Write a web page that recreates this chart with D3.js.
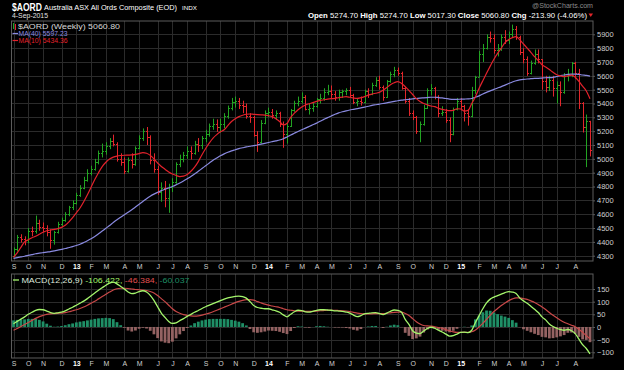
<!DOCTYPE html>
<html><head><meta charset="utf-8">
<script src="https://cdnjs.cloudflare.com/ajax/libs/d3/7.8.5/d3.min.js"></script>
<style>body{margin:0;background:#000}svg{display:block;font-family:"Liberation Sans",Arial,sans-serif}</style>
</head><body><svg id="c" width="624" height="370"></svg>
<script>
// ---- DATA (weekly $AORD, first bar Fri 7-Sep-2012, last bar Fri 4-Sep-2015) ----
const opens = [4300,4345,4435,4420,4410,4480,4475,4535,4510,4500,
4470,4410,4470,4530,4560,4600,4650,4680,4740,4790,
4850,4900,4930,4975,5040,5060,5090,5130,5110,5000,
4980,4910,4990,4960,5080,5150,5200,5160,4990,4930,
4760,4790,4720,4800,4830,4960,5000,5030,5060,5040,
5110,5100,5150,5180,5240,5250,5230,5250,5310,5370,
5410,5420,5390,5380,5310,5300,5170,5120,5260,5330,
5340,5320,5330,5250,5180,5240,5350,5400,5420,5450,
5360,5370,5380,5430,5440,5480,5490,5470,5450,5480,
5490,5500,5460,5410,5420,5410,5490,5470,5530,5570,
5520,5450,5560,5610,5640,5620,5510,5420,5330,5300,
5200,5250,5370,5500,5510,5450,5330,5340,5280,5180,
5360,5420,5380,5330,5310,5500,5590,5760,5800,5880,
5870,5790,5800,5880,5860,5900,5940,5880,5770,5720,
5620,5690,5760,5720,5560,5520,5570,5510,5530,5480,
5600,5610,5690,5620,5400,5230,5274.7];
const highs = [4360,4450,4455,4440,4500,4510,4590,4560,4540,4520,
4490,4480,4545,4575,4615,4660,4700,4755,4810,4870,
4925,4950,5000,5060,5110,5120,5150,5175,5120,5040,
5010,5010,5040,5090,5170,5220,5230,5170,5040,4950,
4830,4840,4820,4860,4975,5030,5050,5090,5090,5130,
5150,5165,5210,5255,5290,5285,5290,5330,5385,5440,
5450,5440,5420,5400,5330,5310,5200,5280,5350,5370,
5360,5350,5340,5270,5260,5360,5420,5450,5480,5460,
5400,5410,5440,5470,5510,5535,5530,5490,5500,5500,
5510,5520,5470,5440,5450,5500,5510,5550,5590,5600,
5530,5570,5630,5665,5660,5630,5520,5440,5350,5310,
5270,5390,5510,5540,5520,5460,5380,5360,5300,5370,
5440,5440,5390,5360,5520,5600,5780,5830,5900,5920,
5900,5830,5900,5930,5920,5970,5960,5890,5800,5740,
5710,5790,5790,5720,5600,5600,5600,5560,5560,5620,
5650,5700,5700,5650,5410,5320,5274.7];
const lows = [4290,4330,4395,4375,4390,4440,4460,4480,4470,4440,
4350,4380,4460,4515,4545,4585,4630,4670,4725,4780,
4835,4880,4915,4960,5010,5030,5070,5090,4980,4950,
4890,4900,4930,4950,5070,5130,5100,4960,4900,4740,
4690,4650,4610,4760,4820,4940,4975,5000,4995,5030,
5050,5070,5120,5160,5210,5195,5190,5220,5290,5350,
5370,5360,5330,5290,5260,5160,5050,5110,5250,5300,
5290,5280,5230,5080,5110,5230,5340,5380,5400,5350,
5320,5340,5370,5400,5420,5460,5440,5420,5420,5440,
5460,5440,5395,5380,5385,5400,5440,5460,5520,5500,
5420,5440,5550,5590,5600,5500,5400,5310,5280,5180,
5120,5240,5360,5460,5430,5300,5310,5260,5120,5170,
5350,5350,5270,5240,5300,5470,5590,5700,5790,5840,
5760,5740,5780,5830,5830,5880,5860,5750,5690,5600,
5610,5680,5690,5500,5480,5490,5450,5400,5380,5470,
5560,5590,5580,5360,5190,4940,5017.3];
const closes = [4345,4435,4420,4410,4480,4475,4535,4510,4500,4470,
4410,4470,4530,4560,4600,4650,4680,4740,4790,4850,
4900,4930,4975,5040,5060,5090,5130,5110,5000,4980,
4910,4990,4960,5080,5150,5200,5160,4990,4930,4760,
4790,4720,4800,4830,4960,5000,5030,5060,5040,5110,
5100,5150,5180,5240,5250,5230,5250,5310,5370,5410,
5420,5390,5380,5310,5300,5170,5120,5260,5330,5340,
5320,5330,5250,5180,5240,5350,5400,5420,5450,5360,
5370,5380,5430,5440,5480,5490,5470,5450,5480,5490,
5500,5460,5410,5420,5410,5490,5470,5530,5570,5520,
5450,5560,5610,5640,5620,5510,5420,5330,5300,5200,
5250,5370,5500,5510,5450,5330,5340,5280,5180,5360,
5420,5380,5330,5310,5500,5590,5760,5800,5880,5870,
5790,5800,5880,5860,5900,5940,5880,5770,5720,5620,
5690,5760,5720,5560,5520,5570,5510,5530,5480,5600,
5610,5690,5620,5400,5230,5274.7,5060.8];
const ma10 = [4289,4320,4360,4400,4415,4430,4440,4455,4470,4480,
4486,4490,4496,4505,4520,4545,4575,4610,4645,4690,
4740,4795,4850,4900,4944,4975,4998,5012,5020,5024,
5026,5027,5028,5032,5038,5045,5040,5025,5000,4970,
4945,4925,4905,4890,4880,4872,4875,4887,4910,4940,
4980,5030,5075,5115,5150,5175,5195,5210,5240,5270,
5290,5305,5315,5322,5324,5322,5320,5318,5316,5312,
5305,5290,5270,5245,5255,5300,5330,5355,5375,5389,
5398,5406,5415,5422,5427,5432,5435,5437,5442,5446,
5449,5445,5440,5437,5442,5450,5460,5468,5474,5480,
5495,5515,5535,5550,5558,5545,5522,5495,5465,5435,
5415,5400,5390,5382,5377,5365,5357,5352,5348,5350,
5362,5360,5345,5350,5400,5449,5510,5565,5618,5670,
5720,5762,5800,5840,5862,5876,5883,5860,5830,5800,
5770,5738,5710,5680,5663,5645,5625,5608,5600,5594,
5600,5605,5590,5560,5525,5490,5434.36];
const ma40 = [4281,4286,4291,4296,4302,4308,4314,4318,4322,4326,
4330,4335,4340,4346,4352,4359,4366,4374,4383,4395,
4408,4422,4438,4458,4478,4498,4518,4540,4560,4578,
4596,4614,4632,4652,4672,4692,4712,4730,4745,4758,
4770,4780,4790,4800,4812,4825,4840,4856,4872,4890,
4910,4930,4950,4970,4990,5006,5022,5036,5048,5058,
5066,5074,5080,5086,5091,5096,5100,5106,5112,5118,
5124,5130,5136,5145,5158,5172,5185,5198,5210,5222,
5234,5246,5258,5272,5285,5298,5310,5322,5332,5340,
5347,5353,5358,5363,5368,5374,5380,5386,5391,5396,
5400,5405,5410,5415,5420,5424,5427,5430,5433,5436,
5439,5441,5443,5445,5445,5443,5440,5436,5432,5430,
5430,5431,5432,5433,5436,5445,5455,5468,5480,5491,
5502,5512,5522,5533,5544,5555,5564,5570,5574,5577,
5579,5581,5582,5584,5586,5587,5589,5595,5601,5606,
5610,5612,5612,5610,5606,5603,5597.23];
const macdLine = [13,22,31,40,50,58,66,69,68,63,
57,54,56,59,64,71,78,86,94,102,
112,123,134,145,155,165,173,177,170,160,
150,138,132,134,140,143,138,125,105,80,
55,38,22,14,16,25,33,42,50,58,
65,73,80,86,92,98,104,110,115,118,
121,122,120,114,100,85,77,74,72,72,
68,64,58,48,40,50,60,66,65,60,
59,62,66,68,68,67,66,64,63,62,
59,55,47,41,45,52,54,56,57,53,
49,55,62,67,66,58,30,10,-15,-24,
-26,-16,-6,-1,-5,-13,-20,-28,-36,-34,
-28,-21,-20,-22,-13,18,45,72,95,110,
118,124,130,136,140,138,132,114,103,94,
82,70,57,40,28,12,2,-5,-10,-13,
-10,-15,-26,-48,-70,-85,-106.422];
const signalLine = [-13,-6,2,10,18,26,34,41,46,50,
52,53,54,55,57,60,64,68,73,79,
86,94,102,111,120,129,138,146,151,153,
153,152,150,148,147,146,144,140,134,124,
112,100,86,72,61,54,49,46,44,43,
44,47,51,55,60,66,72,78,84,90,
96,101,105,108,108,106,100,95,90,86,
83,80,77,72,68,66,64,63,63,62,
62,62,63,64,65,66,66,66,65,64,
63,61,58,55,53,52,52,52,53,53,
53,54,56,58,59,59,53,45,33,21,
12,6,4,3,1,-2,-5,-10,-15,-19,
-21,-21,-21,-21,-19,-12,0,14,30,46,
61,73,85,95,104,111,115,115,112,109,
103,97,89,79,69,57,46,36,27,19,
13,7,1,-9,-21,-34,-46.384];
const histogram = [26,28,29,30,32,32,32,28,22,13,
5,1,2,4,7,11,14,18,21,23,
26,29,32,34,35,36,35,31,19,7,
-3,-14,-18,-14,-7,-3,-6,-15,-29,-44,
-57,-62,-64,-58,-45,-29,-16,-4,6,15,
21,26,29,31,32,32,32,32,31,28,
25,21,15,6,-8,-21,-23,-21,-18,-14,
-15,-16,-19,-24,-28,-16,-4,3,2,-2,
-3,0,3,4,3,1,0,-2,-2,-2,
-4,-6,-11,-14,-8,0,2,4,4,0,
-4,1,6,9,7,-1,-23,-35,-48,-45,
-38,-22,-10,-4,-6,-11,-15,-18,-21,-15,
-7,0,1,-1,6,30,45,58,65,64,
57,51,45,41,36,27,17,-1,-9,-15,
-21,-27,-32,-39,-41,-45,-44,-41,-37,-32,
-23,-22,-27,-39,-49,-51,-60.037];
const priceTicks = [4300,4400,4500,4600,4700,4800,4900,5000,5100,5200,5300,5400,5500,5600,5700,5800,5900];
const macdTicks = [150,100,50,0,-50,-100];
const monthLabels = ["S","O","N","D","13","F","M","A","M","J","J","A",
"S","O","N","D","14","F","M","A","M","J","J","A",
"S","O","N","D","15","F","M","A","M","J","J","A"];

// ---- LAYOUT ----
const W=624,H=370;
const P={l:11.5,r:593,t:21,b:261};
const M={l:11.5,r:593,t:274,b:358};
const C={grid:"#2b2b2b",frame:"#5c5c5c",txt:"#cfcfcf",up:"#22a322",dn:"#e3262b",
  ma10:"#e3222c",ma40:"#8a8ae0",macd:"#a4f56c",sig:"#c84848",hpos:"#1f8f66",hneg:"#946262"};

const svg=d3.select("#c");
svg.append("rect").attr("width",W).attr("height",H).attr("fill","#000");

const t0=new Date(2012,8,7);
const dates=closes.map((d,i)=>d3.timeDay.offset(t0,7*i));
const x=d3.scaleTime().domain([dates[0],dates[dates.length-1]]).range([13.5,590]);
const y=d3.scaleLinear().domain([4300,5900]).range([255.7,34.3]);
const ym=d3.scaleLinear().domain([-100,150]).range([352.3,289]);

const monthIdx=[];
dates.forEach((d,i)=>{ if(i===0||d.getMonth()!==dates[i-1].getMonth()) monthIdx.push(i); });
const monthDates=monthIdx.slice(0,monthLabels.length).map(i=>dates[i]);

function panelGrid(pn,ys,ticks){
  const g=svg.append("g");
  g.selectAll("line.h").data(ticks).join("line")
    .attr("x1",pn.l).attr("x2",pn.r).attr("y1",d=>Math.round(ys(d))+0.5).attr("y2",d=>Math.round(ys(d))+0.5)
    .attr("stroke",C.grid).attr("stroke-width",1);
  g.selectAll("line.v").data(monthDates).join("line")
    .attr("x1",d=>Math.round(x(d))+0.5).attr("x2",d=>Math.round(x(d))+0.5).attr("y1",pn.t).attr("y2",pn.b)
    .attr("stroke",C.grid).attr("stroke-width",1);
  g.append("rect").attr("x",pn.l).attr("y",pn.t).attr("width",pn.r-pn.l).attr("height",pn.b-pn.t)
    .attr("fill","none").attr("stroke",C.frame).attr("stroke-width",1);
}
panelGrid(P,y,priceTicks);
panelGrid(M,ym,macdTicks);

const F="Liberation Sans, Arial, sans-serif";
function rightAxis(scale,ticks,pn){
  const a=svg.append("g").attr("transform",`translate(${pn.r},0)`)
    .call(d3.axisRight(scale).tickValues(ticks).tickSize(2).tickPadding(2).tickFormat(d3.format("d")));
  a.select(".domain").remove();
  a.selectAll("line").attr("stroke",C.frame);
  a.selectAll("text").attr("fill",C.txt).attr("font-size",7.5).attr("font-family",F);
}
rightAxis(y,priceTicks,P);
rightAxis(ym,macdTicks,M);

function monthAxis(yPos,pad){
  const a=svg.append("g").attr("transform",`translate(0,${yPos})`)
    .call(d3.axisBottom(x).tickValues(monthDates).tickSize(0).tickPadding(pad).tickFormat((d,i)=>monthLabels[i]));
  a.select(".domain").remove();
  a.selectAll("text").attr("font-size",7).attr("font-family",F)
    .attr("fill",(d,i)=>/\d/.test(monthLabels[i])?"#ffffff":C.txt)
    .attr("font-weight",(d,i)=>/\d/.test(monthLabels[i])?"bold":"normal");
}
monthAxis(P.b,3.5);
monthAxis(M.b,3);

// price bars
const bars=svg.append("g");
closes.forEach((c,i)=>{
  const prev=i===0?opens[0]:closes[i-1];
  const col=c>=prev?C.up:C.dn;
  const xi=Math.round(x(dates[i]))+0.5;
  bars.append("line").attr("x1",xi).attr("x2",xi).attr("y1",y(highs[i])).attr("y2",y(lows[i])).attr("stroke",col).attr("stroke-width",1);
  bars.append("line").attr("x1",xi-1.5).attr("x2",xi).attr("y1",Math.round(y(opens[i]))+0.5).attr("y2",Math.round(y(opens[i]))+0.5).attr("stroke",col).attr("stroke-width",1);
  bars.append("line").attr("x1",xi).attr("x2",xi+1.5).attr("y1",Math.round(y(c))+0.5).attr("y2",Math.round(y(c))+0.5).attr("stroke",col).attr("stroke-width",1);
});

const lineP=(arr,ys)=>d3.line().x((d,i)=>x(dates[i])).y(d=>ys(d)).curve(d3.curveMonotoneX)(arr);
svg.append("path").attr("d",lineP(ma40,y)).attr("fill","none").attr("stroke",C.ma40).attr("stroke-width",1.2);
svg.append("path").attr("d",lineP(ma10,y)).attr("fill","none").attr("stroke",C.ma10).attr("stroke-width",1.2);

svg.append("g").selectAll("rect").data(histogram).join("rect")
  .attr("x",(d,i)=>x(dates[i])-1.4).attr("width",2.8)
  .attr("y",d=>Math.min(ym(d),ym(0))).attr("height",d=>Math.abs(ym(d)-ym(0)))
  .attr("fill",d=>d>=0?C.hpos:C.hneg);
svg.append("path").attr("d",lineP(signalLine,ym)).attr("fill","none").attr("stroke",C.sig).attr("stroke-width",1.2);
svg.append("path").attr("d",lineP(macdLine,ym)).attr("fill","none").attr("stroke",C.macd).attr("stroke-width",1.3);

// ---- TEXT ----
function txt(xp,yp,s,opt={}){
  const t=svg.append("text").attr("x",xp).attr("y",yp).text(s).attr("font-family",F)
    .attr("font-size",opt.size||8).attr("fill",opt.fill||"#ffffff").attr("font-weight",opt.bold?"bold":"normal")
    .attr("text-anchor",opt.anchor||"start");
  if(opt.len) t.attr("textLength",opt.len).attr("lengthAdjust","spacingAndGlyphs");
  return t;
}
txt(12,10.5,"$AORD",{size:10,bold:true,len:30});
txt(44,10,"Australia ASX All Ords Composite (EOD)",{size:7.6,len:133});
txt(182,10,"INDX",{size:5.6,len:15});
txt(12,18,"4-Sep-2015",{size:7.2,fill:"#e0e0e0",len:36});
txt(532,7.5,"@StockCharts.com",{size:6.6,fill:"#8a8a8a",len:61});

const hdr=svg.append("text").attr("x",308).attr("y",17.5).attr("font-family",F).attr("font-size",7.4).attr("fill","#ffffff")
  .attr("textLength",279).attr("lengthAdjust","spacingAndGlyphs");
[["Open ",true],["5274.70 ",false],["High ",true],["5274.70 ",false],["Low ",true],["5017.30 ",false],
 ["Close ",true],["5060.80 ",false],["Chg ",true],["-213.90 (-4.06%)",false]]
 .forEach(h=>hdr.append("tspan").attr("font-weight",h[1]?"bold":"normal").text(h[0]));
svg.append("path").attr("d","M588.5,13.5 L593,13.5 L590.75,17 Z").attr("fill","#e3262b");

// price legend
svg.append("line").attr("x1",13.5).attr("x2",13.5).attr("y1",23).attr("y2",29).attr("stroke",C.up);
svg.append("line").attr("x1",15.5).attr("x2",15.5).attr("y1",24).attr("y2",30).attr("stroke",C.dn);
txt(18,29,"$AORD (Weekly) 5060.80",{size:7.6,fill:"#d8d8d8",len:102});
svg.append("line").attr("x1",12.5).attr("x2",18).attr("y1",33.5).attr("y2",33.5).attr("stroke",C.ma40).attr("stroke-width",1.2);
txt(18.5,36,"MA(40) 5597.23",{size:6.8,fill:C.ma40,len:49});
svg.append("line").attr("x1",12.5).attr("x2",18).attr("y1",40.5).attr("y2",40.5).attr("stroke",C.ma10).attr("stroke-width",1.2);
txt(18.5,43,"MA(10) 5434.36",{size:6.8,fill:C.ma10,len:49});

// MACD legend
svg.append("line").attr("x1",13).attr("x2",19).attr("y1",280).attr("y2",280).attr("stroke",C.macd).attr("stroke-width",1.3);
const mt=svg.append("text").attr("x",21.5).attr("y",282.5).attr("font-family",F).attr("font-size",7.6)
  .attr("textLength",168).attr("lengthAdjust","spacingAndGlyphs");
mt.append("tspan").attr("fill","#dfe8dc").text("MACD(12,26,9) ");
mt.append("tspan").attr("fill",C.macd).text("-106.422, ");
mt.append("tspan").attr("fill","#e05050").text("-46.384, ");
mt.append("tspan").attr("fill","#1f8f66").text("-60.037");
</script></body></html>
